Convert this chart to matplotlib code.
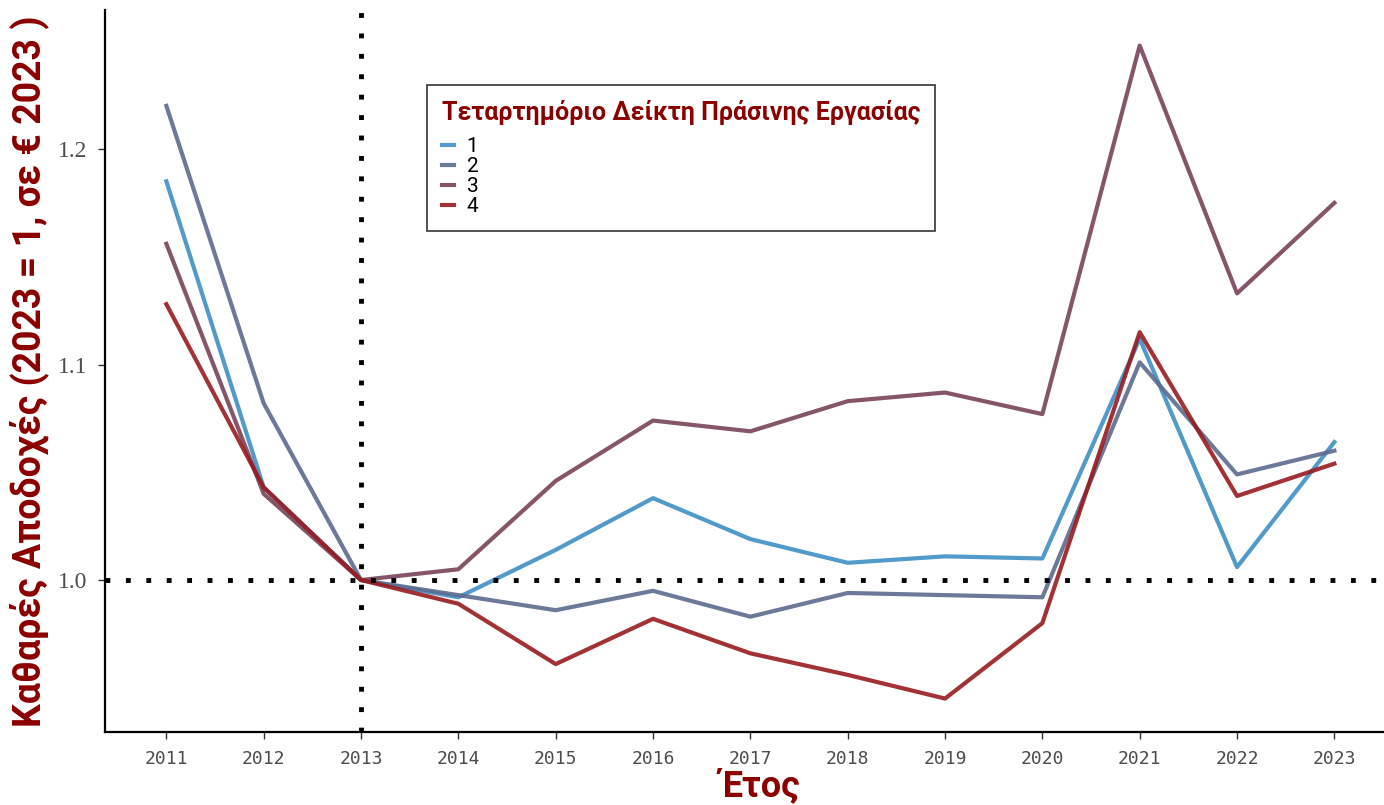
import numpy as np
import matplotlib.pyplot as plt

years = list(range(2011, 2024))
q1 = [1.185, 1.043, 1.000, 0.992, 1.014, 1.038, 1.019, 1.008, 1.011, 1.010, 1.112, 1.006, 1.064]
q2 = [1.220, 1.082, 1.000, 0.993, 0.986, 0.995, 0.983, 0.994, 0.993, 0.992, 1.101, 1.049, 1.060]
q3 = [1.156, 1.040, 1.000, 1.005, 1.046, 1.074, 1.069, 1.083, 1.087, 1.077, 1.248, 1.133, 1.175]
q4 = [1.128, 1.043, 1.000, 0.989, 0.961, 0.982, 0.966, 0.956, 0.945, 0.980, 1.115, 1.039, 1.054]
labels = ['1', '2', '3', '4']
colors = ['#3f8fc4', '#5d6a8e', '#784459', '#981b1f']

fig = plt.figure(figsize=(13.84, 8.05), dpi=100)
ax = fig.add_axes([0.0759, 0.0907, 0.9241, 0.8969])

for vals, lab, col in zip([q1, q2, q3, q4], labels, colors):
    ax.plot(years, vals, color=col, lw=3, alpha=0.9, label=lab)

# reference lines at the base year
ax.axhline(1.0, color='black', lw=3.5, ls=(0, (1, 3.2)))
ax.axvline(2013, color='black', lw=3.5, ls=(0, (1, 3.2)))

ax.set_xlim(2010.37, 2023.51)
ax.set_ylim(0.9295, 1.2645)
ax.set_xticks(years)
ax.set_xticklabels([str(y) for y in years], family='DejaVu Sans Mono', fontsize=13, color='#4d4d4d')
ax.set_yticks([1.0, 1.1, 1.2])
ax.set_yticklabels(['1.0', '1.1', '1.2'], family='Liberation Serif', fontsize=17, color='#4d4d4d')
ax.tick_params(axis='both', direction='out', length=5, width=1, color='#333333', pad=8)

for s in ['top', 'right']:
    ax.spines[s].set_visible(False)
for s in ['left', 'bottom']:
    ax.spines[s].set_linewidth(1.6)

ax.set_ylabel('Καθαρές Αποδοχές (2023 = 1, σε € 2023 )', family='Roboto', fontweight='bold',
              fontsize=27, color='#8b0000', labelpad=6)
ax.set_xlabel('Έτος', family='Roboto', fontweight='bold', fontsize=26, color='#8b0000', labelpad=0)
ax.xaxis.set_label_coords(0.512, -0.05)

leg = ax.legend(title='Τεταρτημόριο Δείκτη Πράσινης Εργασίας', loc='upper left',
                bbox_to_anchor=(427 / 1384, 1 - 85 / 805), bbox_transform=fig.transFigure,
                borderaxespad=0, frameon=True, fancybox=False, edgecolor='black',
                handlelength=0.6, labelspacing=0.05, handletextpad=0.6, borderpad=0.7,
                prop={'family': 'Roboto', 'size': 15},
                title_fontproperties={'family': 'Roboto', 'weight': 'bold', 'size': 18})
leg.get_title().set_color('#8b0000')
leg._legend_box.align = 'left'
leg._legend_box.sep = 9
leg.get_frame().set_linewidth(1.2)

fig.savefig('out.png', dpi=100)
